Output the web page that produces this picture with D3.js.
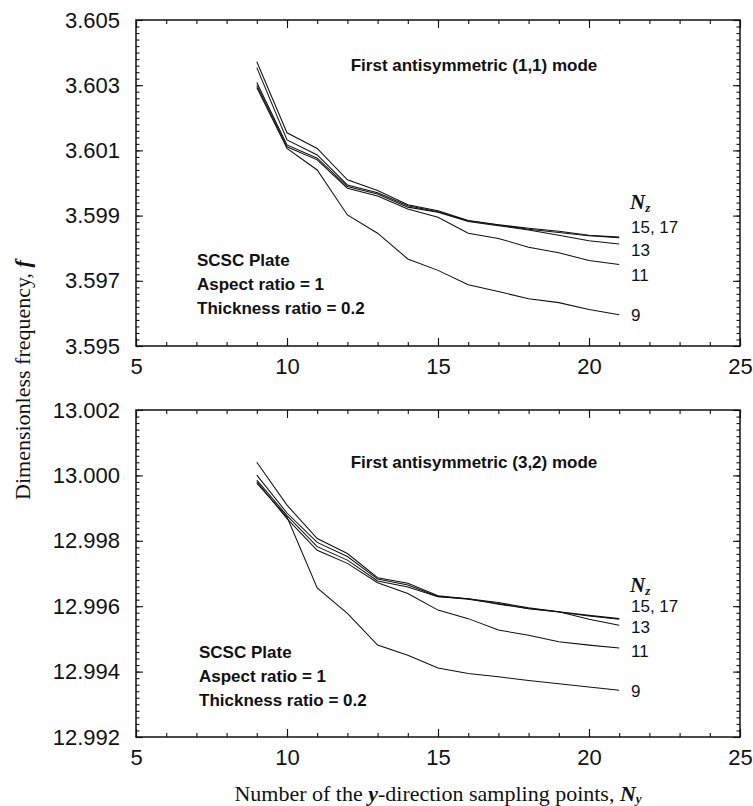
<!DOCTYPE html>
<html>
<head>
<meta charset="utf-8">
<script src="https://cdn.jsdelivr.net/npm/d3@7"></script>
<style>
  body { margin: 0; background: #fff; }
  svg text { fill: #111; }
</style>
</head>
<body>
<svg id="chart" width="753" height="806"></svg>
<script>
// sampling points along y (shared by both panels)
const nyPoints = [9, 10, 11, 12, 13, 14, 15, 16, 17, 18, 19, 20, 21];

// first antisymmetric (1,1) mode, one array per Nz
const mode11Nz17 = [3.60372, 3.60154, 3.60106, 3.60010, 3.59977, 3.59933, 3.59915, 3.59885, 3.59872, 3.59861, 3.59852, 3.59840, 3.59834];
const mode11Nz15 = [3.60354, 3.60132, 3.60086, 3.59994, 3.59970, 3.59930, 3.59912, 3.59884, 3.59871, 3.59858, 3.59848, 3.59838, 3.59832];
const mode11Nz13 = [3.60308, 3.60117, 3.60076, 3.59989, 3.59966, 3.59926, 3.59910, 3.59882, 3.59869, 3.59856, 3.59840, 3.59823, 3.59813];
const mode11Nz11 = [3.60300, 3.60111, 3.60071, 3.59984, 3.59960, 3.59920, 3.59895, 3.59846, 3.59830, 3.59803, 3.59786, 3.59762, 3.59750];
const mode11Nz9  = [3.60293, 3.60106, 3.60040, 3.59902, 3.59846, 3.59767, 3.59732, 3.59688, 3.59667, 3.59645, 3.59633, 3.59612, 3.59596];

// first antisymmetric (3,2) mode
const mode32Nz17 = [13.00040, 12.99909, 12.99807, 12.99761, 12.99687, 12.99670, 12.99632, 12.99623, 12.99611, 12.99595, 12.99583, 12.99572, 12.99562];
const mode32Nz15 = [13.00001, 12.99885, 12.99795, 12.99752, 12.99683, 12.99665, 12.99630, 12.99621, 12.99608, 12.99592, 12.99582, 12.99570, 12.99560];
const mode32Nz13 = [12.99986, 12.99877, 12.99782, 12.99741, 12.99677, 12.99659, 12.99629, 12.99623, 12.99606, 12.99593, 12.99583, 12.99560, 12.99542];
const mode32Nz11 = [12.99981, 12.99868, 12.99771, 12.99731, 12.99672, 12.99639, 12.99588, 12.99562, 12.99527, 12.99511, 12.99491, 12.99481, 12.99472];
const mode32Nz9  = [12.99976, 12.99873, 12.99656, 12.99578, 12.99481, 12.99450, 12.99411, 12.99394, 12.99384, 12.99373, 12.99363, 12.99353, 12.99343];

const xTicks = [5, 10, 15, 20, 25];
const yTicksTop = [3.595, 3.597, 3.599, 3.601, 3.603, 3.605];
const yTicksBottom = [12.992, 12.994, 12.996, 12.998, 13.000, 13.002];

// end labels: text + the frequency level they sit at
const endLabelsTop = [["15, 17", 3.59865], ["13", 3.59794], ["11", 3.59716], ["9", 3.59595]];
const endLabelsBottom = [["15, 17", 12.99600], ["13", 12.99534], ["11", 12.99460], ["9", 12.99338]];
const nzHeaderTop = 3.59942;
const nzHeaderBottom = 12.99664;

const notes = ["SCSC Plate", "Aspect ratio = 1", "Thickness ratio = 0.2"];

const svg = d3.select("#chart");
const sansFont = "'Liberation Sans', Arial, Helvetica, sans-serif";
const serifFont = "'Liberation Serif', 'Times New Roman', serif";

const xScale = d3.scaleLinear().domain([5, 25]).range([136, 740]);

const drawPanel = (cfg) => {
    const yScale = d3.scaleLinear().domain(cfg.domain).range(cfg.range);
    const g = svg.append("g");
    const [yBottom, yTop] = cfg.range;

    // minor ticks
    const xMinor = d3.range(5, 26, 1);
    const yStep = (cfg.domain[1] - cfg.domain[0]) / 50;
    const yMinor = d3.range(0, 51).map(i => cfg.domain[0] + i * yStep);

    g.append("g").attr("transform", `translate(0,${yBottom})`)
        .call(d3.axisBottom(xScale).tickValues(xMinor).tickSize(-4).tickFormat(""));
    g.append("g").attr("transform", `translate(0,${yTop})`)
        .call(d3.axisTop(xScale).tickValues(xMinor).tickSize(-4).tickFormat(""));
    g.append("g").attr("transform", `translate(${xScale.range()[0]},0)`)
        .call(d3.axisLeft(yScale).tickValues(yMinor).tickSize(-3.5).tickFormat(""));
    g.append("g").attr("transform", `translate(${xScale.range()[1]},0)`)
        .call(d3.axisRight(yScale).tickValues(yMinor).tickSize(-3.5).tickFormat(""));

    // major ticks + labels
    g.append("g").attr("class", "x-axis").attr("transform", `translate(0,${yBottom})`)
        .call(d3.axisBottom(xScale).tickValues(xTicks).tickSize(-8).tickPadding(12).tickFormat(d3.format("d")));
    g.append("g").attr("transform", `translate(0,${yTop})`)
        .call(d3.axisTop(xScale).tickValues(xTicks).tickSize(-8).tickFormat(""));
    g.append("g").attr("class", "y-axis").attr("transform", `translate(${xScale.range()[0]},0)`)
        .call(d3.axisLeft(yScale).tickValues(cfg.yTicks).tickSize(-7).tickPadding(16).tickFormat(d3.format(".3f")));
    g.append("g").attr("transform", `translate(${xScale.range()[1]},0)`)
        .call(d3.axisRight(yScale).tickValues(cfg.yTicks).tickSize(-7).tickFormat(""));

    g.selectAll(".domain").remove();
    g.selectAll(".tick line").attr("stroke", "#111").attr("stroke-width", 1.1);
    g.selectAll(".x-axis text, .y-axis text")
        .attr("font-family", sansFont)
        .attr("font-size", 22)
        .attr("fill", "#111");

    // frame
    g.append("rect")
        .attr("x", xScale.range()[0])
        .attr("y", yTop)
        .attr("width", xScale.range()[1] - xScale.range()[0])
        .attr("height", yBottom - yTop)
        .attr("fill", "none")
        .attr("stroke", "#111")
        .attr("stroke-width", 1.5);

    const line = d3.line()
        .x((d, i) => xScale(nyPoints[i]))
        .y(d => yScale(d));

    g.selectAll(".curve")
        .data(cfg.series)
        .join("path")
        .attr("class", "curve")
        .attr("d", d => line(d))
        .attr("fill", "none")
        .attr("stroke", "#111")
        .attr("stroke-width", 1.05);

    g.append("text")
        .attr("x", 474)
        .attr("y", cfg.titleY)
        .attr("text-anchor", "middle")
        .attr("dominant-baseline", "central")
        .attr("font-family", sansFont)
        .attr("font-weight", "bold")
        .attr("font-size", 17)
        .text(cfg.title);

    g.selectAll(".note")
        .data(notes)
        .join("text")
        .attr("class", "note")
        .attr("x", cfg.notesX)
        .attr("y", (d, i) => cfg.notesY + i * 24)
        .attr("dominant-baseline", "central")
        .attr("font-family", sansFont)
        .attr("font-weight", "bold")
        .attr("font-size", 17)
        .text(d => d);

    const nz = g.append("text")
        .attr("x", 630)
        .attr("y", yScale(cfg.nzHeader))
        .attr("dominant-baseline", "central")
        .attr("font-family", serifFont)
        .attr("font-style", "italic")
        .attr("font-weight", "bold")
        .attr("font-size", 21);
    nz.append("tspan").text("N");
    nz.append("tspan").attr("font-size", 13).attr("dy", 5).text("z");

    g.selectAll(".end-label")
        .data(cfg.endLabels)
        .join("text")
        .attr("class", "end-label")
        .attr("x", 631)
        .attr("y", d => yScale(d[1]))
        .attr("dominant-baseline", "central")
        .attr("font-family", sansFont)
        .attr("font-size", 17)
        .text(d => d[0]);
};

drawPanel({
    domain: [3.595, 3.605],
    range: [346, 20],
    yTicks: yTicksTop,
    series: [mode11Nz17, mode11Nz15, mode11Nz13, mode11Nz11, mode11Nz9],
    title: "First antisymmetric (1,1) mode",
    titleY: 65,
    notesX: 197,
    notesY: 260,
    nzHeader: nzHeaderTop,
    endLabels: endLabelsTop
});

drawPanel({
    domain: [12.992, 13.002],
    range: [737, 410],
    yTicks: yTicksBottom,
    series: [mode32Nz17, mode32Nz15, mode32Nz13, mode32Nz11, mode32Nz9],
    title: "First antisymmetric (3,2) mode",
    titleY: 462,
    notesX: 199,
    notesY: 652,
    nzHeader: nzHeaderBottom,
    endLabels: endLabelsBottom
});

// axis titles
svg.append("text")
    .attr("transform", "translate(22,380) rotate(-90)")
    .attr("text-anchor", "middle")
    .attr("dominant-baseline", "central")
    .attr("font-family", serifFont)
    .attr("font-size", 22)
    .text("Dimensionless frequency, ")
    .append("tspan")
    .attr("font-style", "italic")
    .attr("font-weight", "bold")
    .text("f");

const xTitle = svg.append("text")
    .attr("x", 438)
    .attr("y", 793)
    .attr("text-anchor", "middle")
    .attr("dominant-baseline", "central")
    .attr("font-family", serifFont)
    .attr("font-size", 22);
xTitle.append("tspan").text("Number of the ");
xTitle.append("tspan").attr("font-style", "italic").attr("font-weight", "bold").text("y");
xTitle.append("tspan").text("-direction sampling points, ");
xTitle.append("tspan").attr("font-style", "italic").attr("font-weight", "bold").text("N");
xTitle.append("tspan").attr("font-style", "italic").attr("font-weight", "bold").attr("font-size", 13).attr("dy", 5).text("y");
</script>
</body>
</html>
